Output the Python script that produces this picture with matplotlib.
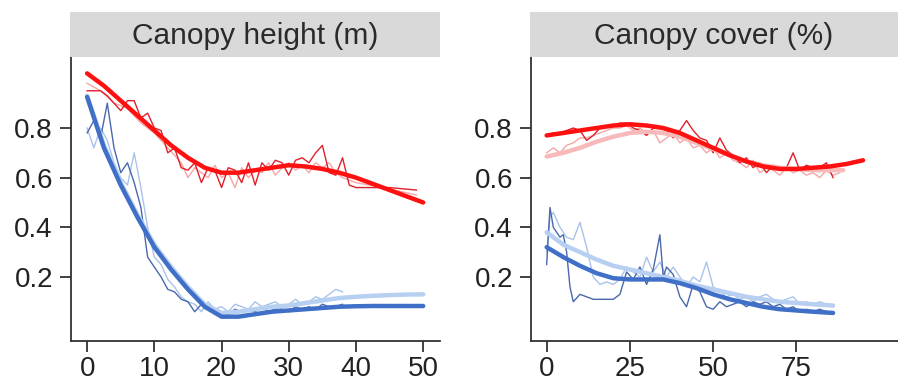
import matplotlib
matplotlib.use('Agg')
import matplotlib.pyplot as plt

plt.rcParams['font.family'] = ['Liberation Sans', 'DejaVu Sans']

# ---- left panel: canopy height ----
h_smooth_x = [0, 2.5, 5, 7.5, 10, 12.5, 15, 17.5, 20, 22.5, 25, 27.5, 30, 32.5, 35, 37.5, 40, 42.5, 45, 47.5, 50]
h_red_smooth = [1.02, 0.97, 0.91, 0.85, 0.79, 0.73, 0.68, 0.64, 0.62, 0.62, 0.63, 0.64, 0.65, 0.645, 0.635, 0.62, 0.60, 0.575, 0.55, 0.525, 0.50]
h_blue_smooth = [0.925, 0.72, 0.57, 0.44, 0.32, 0.23, 0.15, 0.08, 0.04, 0.04, 0.05, 0.06, 0.065, 0.07, 0.075, 0.08, 0.082, 0.083, 0.083, 0.083, 0.083]
h_lblue_smooth = [0.93, 0.73, 0.58, 0.45, 0.33, 0.24, 0.16, 0.09, 0.055, 0.06, 0.07, 0.08, 0.085, 0.095, 0.105, 0.115, 0.12, 0.124, 0.127, 0.129, 0.13]

h_red_x = [0, 1, 2, 3, 4, 5, 6, 7, 8, 9, 10, 11, 12, 13, 14, 15, 16, 17, 18, 19, 20, 21, 22, 23, 24, 25,
           26, 27, 28, 29, 30, 31, 32, 33, 34, 35, 36, 37, 38, 39, 40, 42, 45, 49]
h_red_raw = [0.95, 0.95, 0.95, 0.93, 0.90, 0.87, 0.91, 0.91, 0.84, 0.86, 0.80, 0.79, 0.70, 0.72, 0.64, 0.63,
             0.66, 0.58, 0.64, 0.63, 0.56, 0.64, 0.63, 0.58, 0.66, 0.57, 0.66, 0.63, 0.67, 0.66, 0.61, 0.67,
             0.68, 0.66, 0.70, 0.73, 0.62, 0.61, 0.68, 0.57, 0.56, 0.56, 0.56, 0.55]
h_pink_x = [0, 2, 4, 6, 8, 10, 12, 14, 15, 16, 17, 18, 19, 20, 21, 22, 23, 24, 25, 26, 27, 28, 29, 30,
            31, 32, 33, 34, 35, 36, 37, 38, 40, 44, 49]
h_pink_raw = [0.98, 0.95, 0.90, 0.88, 0.82, 0.78, 0.72, 0.66, 0.60, 0.64, 0.62, 0.60, 0.65, 0.60, 0.62,
              0.56, 0.64, 0.60, 0.63, 0.62, 0.66, 0.61, 0.64, 0.66, 0.63, 0.65, 0.62, 0.66, 0.64, 0.66,
              0.62, 0.60, 0.58, 0.56, 0.53]
h_blue_x = list(range(0, 39))
h_blue_raw = [0.78, 0.83, 0.76, 0.90, 0.72, 0.62, 0.66, 0.58, 0.48, 0.28, 0.24, 0.20, 0.15, 0.14, 0.11,
              0.10, 0.06, 0.09, 0.07, 0.05, 0.06, 0.05, 0.07, 0.06, 0.07, 0.06, 0.08, 0.06, 0.07, 0.07,
              0.06, 0.08, 0.07, 0.08, 0.07, 0.09, 0.08, 0.08, 0.09]
h_lblue_raw = [0.80, 0.72, 0.80, 0.75, 0.66, 0.60, 0.57, 0.70, 0.56, 0.40, 0.28, 0.25, 0.19, 0.16, 0.12,
               0.10, 0.09, 0.06, 0.10, 0.07, 0.08, 0.06, 0.09, 0.08, 0.07, 0.10, 0.08, 0.09, 0.10, 0.08,
               0.09, 0.11, 0.09, 0.10, 0.12, 0.11, 0.13, 0.15, 0.14]

# ---- right panel: canopy cover ----
c_smooth_x = [0, 5, 10, 15, 20, 25, 30, 35, 40, 45, 50, 55, 60, 65, 70, 75, 80, 85, 90, 95]
c_red_smooth = [0.77, 0.78, 0.79, 0.80, 0.81, 0.815, 0.81, 0.80, 0.78, 0.75, 0.72, 0.69, 0.665, 0.645,
                0.635, 0.635, 0.64, 0.645, 0.655, 0.67]
c_pink_smooth_x = [0, 5, 10, 15, 20, 25, 30, 35, 40, 45, 50, 55, 60, 65, 70, 75, 80, 85, 89]
c_pink_smooth = [0.685, 0.70, 0.72, 0.745, 0.765, 0.78, 0.785, 0.78, 0.765, 0.74, 0.715, 0.69, 0.665,
                 0.65, 0.64, 0.635, 0.63, 0.63, 0.63]
c_blue_smooth_x = [0, 5, 10, 15, 20, 25, 30, 35, 40, 45, 50, 55, 60, 65, 70, 75, 80, 86]
c_blue_smooth = [0.32, 0.28, 0.245, 0.215, 0.195, 0.19, 0.19, 0.19, 0.175, 0.155, 0.13, 0.11, 0.095,
                 0.08, 0.07, 0.065, 0.06, 0.055]
c_lblue_smooth = [0.38, 0.33, 0.30, 0.27, 0.245, 0.23, 0.215, 0.20, 0.185, 0.165, 0.15, 0.135, 0.12,
                  0.11, 0.10, 0.095, 0.09, 0.085]

c_red_x = list(range(0, 88, 2))
c_red_raw = [0.77, 0.78, 0.78, 0.79, 0.80, 0.79, 0.75, 0.77, 0.80, 0.81, 0.81, 0.82, 0.82, 0.80, 0.79,
             0.77, 0.80, 0.80, 0.79, 0.76, 0.79, 0.83, 0.79, 0.76, 0.75, 0.70, 0.76, 0.71, 0.69, 0.66,
             0.68, 0.64, 0.66, 0.62, 0.65, 0.63, 0.64, 0.70, 0.63, 0.65, 0.64, 0.64, 0.66, 0.60]
c_pink_x = list(range(0, 90, 2))
c_pink_raw = [0.70, 0.72, 0.70, 0.73, 0.74, 0.76, 0.76, 0.77, 0.78, 0.79, 0.80, 0.80, 0.81, 0.79, 0.80,
              0.78, 0.79, 0.74, 0.76, 0.78, 0.74, 0.76, 0.72, 0.73, 0.70, 0.72, 0.68, 0.70, 0.67, 0.66,
              0.64, 0.67, 0.62, 0.64, 0.63, 0.61, 0.64, 0.62, 0.63, 0.61, 0.62, 0.60, 0.63, 0.61, 0.62]
c_blue_x = [0, 1, 2, 3, 4, 5, 6, 7, 8, 10, 12, 14, 16, 18, 20, 22, 24, 26, 28, 30, 32, 34, 35, 36, 38,
            40, 42, 44, 46, 48, 50, 52, 54, 56, 58, 60, 62, 64, 66, 68, 70, 72, 74, 76, 78, 80, 82, 84, 86]
c_blue_raw = [0.25, 0.48, 0.40, 0.38, 0.36, 0.37, 0.30, 0.16, 0.10, 0.13, 0.12, 0.11, 0.11, 0.11, 0.11,
              0.13, 0.22, 0.19, 0.24, 0.17, 0.23, 0.37, 0.20, 0.24, 0.21, 0.12, 0.08, 0.17, 0.14, 0.08,
              0.07, 0.10, 0.08, 0.09, 0.10, 0.08, 0.10, 0.09, 0.10, 0.08, 0.09, 0.07, 0.08, 0.06, 0.07,
              0.06, 0.07, 0.06, 0.05]
c_lblue_x = [0, 1, 2] + list(range(4, 88, 2))
c_lblue_raw = [0.30, 0.44, 0.46, 0.40, 0.36, 0.35, 0.42, 0.32, 0.20, 0.17, 0.18, 0.17, 0.19, 0.24, 0.22,
               0.20, 0.28, 0.22, 0.26, 0.20, 0.24, 0.20, 0.16, 0.20, 0.18, 0.26, 0.16, 0.14, 0.12, 0.13,
               0.11, 0.12, 0.10, 0.12, 0.13, 0.11, 0.10, 0.11, 0.12, 0.09, 0.10, 0.09, 0.10, 0.09, 0.08]

titles = ['Canopy height (m)', 'Canopy cover (%)']
yticks = [0.2, 0.4, 0.6, 0.8]

RED = '#ff1010'
PINK = '#f7b9b9'
BLUE = '#3f6fc6'
LBLUE = '#b7cff1'
THIN_RED = '#e0202a'
THIN_PINK = '#f4a6a6'
THIN_BLUE = '#4a68ad'
THIN_LBLUE = '#a9c3ea'

W, H = 898, 383
fig = plt.figure(figsize=(W / 100, H / 100), dpi=100)

def fx(px):
    return px / W

def fy(py):
    return 1 - py / H

panels = [
    dict(left=71, right=440, strip_left=70, xlim=(-2.4, 52.5), xticks=[0, 10, 20, 30, 40, 50]),
    dict(left=531, right=898, strip_left=530, xlim=(-4.7, 105.5), xticks=[0, 25, 50, 75]),
]
top, bottom, strip_top = 57, 341, 12

axes = []
for p, title in zip(panels, titles):
    ax = fig.add_axes([fx(p['left']), fy(bottom), fx(p['right'] - p['left']), fy(top) - fy(bottom)])
    sax = fig.add_axes([fx(p['strip_left']), fy(top), fx(p['right'] - p['strip_left']), fy(strip_top) - fy(top)])
    sax.set_facecolor('#d9d9d9')
    sax.set_xticks([])
    sax.set_yticks([])
    for s in sax.spines.values():
        s.set_visible(False)
    sax.text(0.5, 0.46, title, ha='center', va='center', fontsize=21.5, color='#2a2a2a', transform=sax.transAxes)

    ax.set_xlim(*p['xlim'])
    ax.set_ylim(-0.058, 1.086)
    ax.set_xticks(p['xticks'])
    ax.set_yticks(yticks)
    ax.set_yticklabels([f'{v:.1f}' for v in yticks])
    ax.spines['top'].set_visible(False)
    ax.spines['right'].set_visible(False)
    for s in ('left', 'bottom'):
        ax.spines[s].set_linewidth(1.3)
        ax.spines[s].set_color('#333333')
    ax.tick_params(direction='out', length=8, width=1.3, color='#333333', labelsize=20,
                   labelcolor='#222222', pad=3)
    ax.tick_params(axis='y', pad=5)
    axes.append(ax)

ax1, ax2 = axes

# left panel
ax1.plot(h_pink_x, h_pink_raw, color=THIN_PINK, lw=1.0)
ax1.plot(h_red_x, h_red_raw, color=THIN_RED, lw=1.0)
ax1.plot(h_blue_x, h_lblue_raw, color=THIN_LBLUE, lw=1.0)
ax1.plot(h_blue_x, h_blue_raw, color=THIN_BLUE, lw=1.0)
ax1.plot(h_smooth_x, h_lblue_smooth, color=LBLUE, lw=3.2, solid_capstyle='round')
ax1.plot(h_smooth_x, h_blue_smooth, color=BLUE, lw=3.2, solid_capstyle='round')
ax1.plot(h_smooth_x, h_red_smooth, color=RED, lw=3.2, solid_capstyle='round')

# right panel
ax2.plot(c_pink_x, c_pink_raw, color=THIN_PINK, lw=1.0)
ax2.plot(c_red_x, c_red_raw, color=THIN_RED, lw=1.0)
ax2.plot(c_lblue_x, c_lblue_raw, color=THIN_LBLUE, lw=1.0)
ax2.plot(c_blue_x, c_blue_raw, color=THIN_BLUE, lw=1.0)
ax2.plot(c_pink_smooth_x, c_pink_smooth, color=PINK, lw=3.2, solid_capstyle='round')
ax2.plot(c_smooth_x, c_red_smooth, color=RED, lw=3.2, solid_capstyle='round')
ax2.plot(c_blue_smooth_x, c_lblue_smooth, color=LBLUE, lw=3.2, solid_capstyle='round')
ax2.plot(c_blue_smooth_x, c_blue_smooth, color=BLUE, lw=3.2, solid_capstyle='round')

fig.savefig('out.png', dpi=100)
